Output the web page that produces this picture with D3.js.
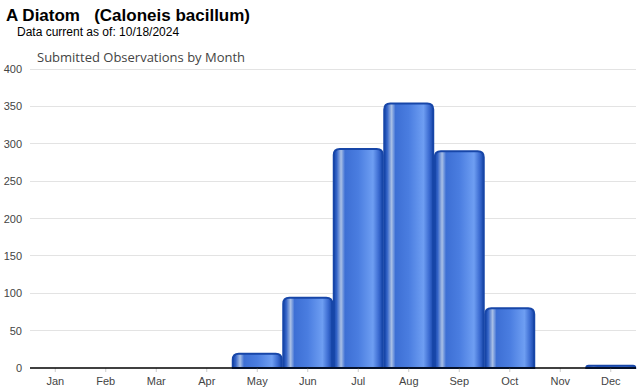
<!DOCTYPE html>
<html>
<head>
<meta charset="utf-8">
<script src="https://cdn.jsdelivr.net/npm/d3@7"></script>
<style>
  body { margin: 0; background: #fff; }
  text { font-family: Arial, "Liberation Sans", sans-serif; }
</style>
</head>
<body>
<div id="chart"></div>
<script>
// Data
const months = ["Jan", "Feb", "Mar", "Apr", "May", "Jun", "Jul", "Aug", "Sep", "Oct", "Nov", "Dec"];
const counts = [0, 0, 0, 0, 19, 94, 293, 354, 290, 80, 0, 3];
const yTicks = [0, 50, 100, 150, 200, 250, 300, 350, 400];

const width = 640;
const height = 390;
const margin = { top: 69, right: 4, bottom: 22, left: 30 };

const data = months.map((m, i) => ({ month: m, value: counts[i] }));

const svg = d3.select("#chart")
    .append("svg")
    .attr("width", width)
    .attr("height", height);

// Bar gradient (glossy cylinder look)
const defs = svg.append("defs");
const grad = defs.append("linearGradient")
    .attr("id", "barGrad")
    .attr("x1", "0%").attr("x2", "100%")
    .attr("y1", "0%").attr("y2", "0%");
[
    [0, "#1746a8"], [0.06, "#3464c8"], [0.15, "#a9c0e6"], [0.23, "#3d6fd4"],
    [0.5, "#4a7de0"], [0.8, "#6e9ef2"], [0.92, "#3a6ad0"], [1, "#1746a8"]
].forEach(s => grad.append("stop").attr("offset", s[0]).attr("stop-color", s[1]));

// Titles
svg.append("text")
    .attr("x", 6).attr("y", 21)
    .attr("font-size", 17).attr("font-weight", "bold")
    .attr("fill", "#000")
    .attr("xml:space", "preserve")
    .text("A Diatom   (Caloneis bacillum)");

svg.append("text")
    .attr("x", 17).attr("y", 36)
    .attr("font-size", 12)
    .attr("fill", "#000")
    .text("Data current as of: 10/18/2024");

svg.append("text")
    .attr("x", 37).attr("y", 62)
    .attr("font-size", 13)
    .attr("fill", "#444")
    .style("font-family", "'Open Sans', sans-serif")
    .text("Submitted Observations by Month");

// Scales
const x = d3.scaleBand()
    .domain(months)
    .range([margin.left, width - margin.right])
    .paddingInner(0.03)
    .paddingOuter(0.015);

const y = d3.scaleLinear()
    .domain([0, 400])
    .range([height - margin.bottom, margin.top]);

// Gridlines
svg.append("g")
    .selectAll("line")
    .data(yTicks.slice(1))
    .join("line")
    .attr("x1", margin.left).attr("x2", width - margin.right)
    .attr("y1", d => y(d)).attr("y2", d => y(d))
    .attr("stroke", "#e3e3e3")
    .attr("stroke-width", 1)
    .attr("shape-rendering", "crispEdges");

// Y axis labels
svg.append("g")
    .selectAll("text")
    .data(yTicks)
    .join("text")
    .attr("x", 22)
    .attr("y", d => y(d) + 4)
    .attr("text-anchor", "end")
    .attr("font-size", 11)
    .attr("fill", "#444")
    .text(d => d);

// Bars with rounded tops
const r = 6;
function barPath(d) {
    const x0 = x(d.month);
    const w = x.bandwidth();
    const yb = y(0);
    const yt = y(d.value);
    const h = yb - yt;
    const rr = Math.min(r, h, w / 2);
    return `M${x0},${yb} L${x0},${yt + rr} Q${x0},${yt} ${x0 + rr},${yt} ` +
        `L${x0 + w - rr},${yt} Q${x0 + w},${yt} ${x0 + w},${yt + rr} L${x0 + w},${yb} Z`;
}

svg.append("g")
    .selectAll("path")
    .data(data.filter(d => d.value > 0))
    .join("path")
    .attr("d", barPath)
    .attr("fill", "url(#barGrad)")
    .attr("stroke", "#1746a8")
    .attr("stroke-width", 2);

// X axis
const xAxis = d3.axisBottom(x).tickSize(4).tickSizeOuter(0);
const gx = svg.append("g")
    .attr("transform", `translate(0, ${y(0)})`)
    .call(xAxis);
gx.select(".domain").remove();
gx.selectAll(".tick line").attr("stroke", "#ccc");
gx.selectAll(".tick text")
    .attr("font-size", 11)
    .attr("fill", "#444")
    .attr("dy", "0.9em")
    .attr("font-family", "Arial, 'Liberation Sans', sans-serif");

svg.append("line")
    .attr("x1", margin.left).attr("x2", width - margin.right)
    .attr("y1", y(0)).attr("y2", y(0))
    .attr("stroke", "#000")
    .attr("stroke-width", 1.5);
</script>
</body>
</html>
